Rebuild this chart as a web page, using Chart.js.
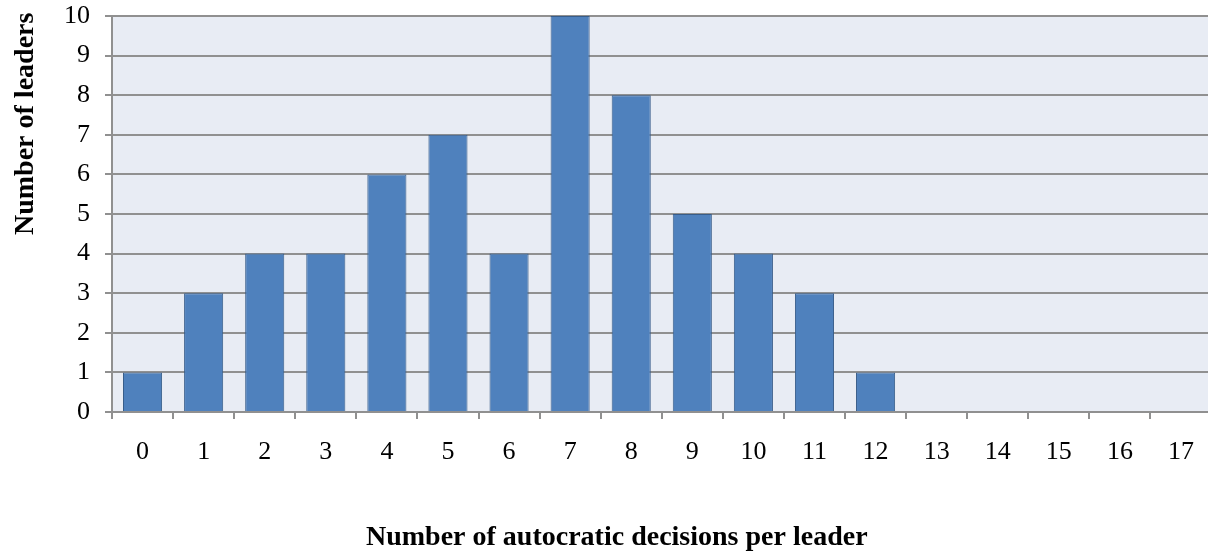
<!DOCTYPE html>
<html>
<head>
<meta charset="utf-8">
<script src="https://cdn.jsdelivr.net/npm/chart.js@4/dist/chart.umd.min.js"></script>
<style>
  html, body { margin: 0; padding: 0; background: #fff; overflow: hidden; }
  #wrap { width: 1208px; height: 552px; overflow: hidden; }
  #wrap div { width: 1212px; height: 552px; }
</style>
</head>
<body>
<div id="wrap"><div><canvas id="bars" width="1212" height="552"></canvas></div></div>
<script>
// --- data ---
const decisions = ["0", "1", "2", "3", "4", "5", "6", "7", "8", "9", "10", "11", "12", "13", "14", "15", "16", "17"];
const leaders = [1, 3, 4, 4, 6, 7, 4, 10, 8, 5, 4, 3, 1, 0, 0, 0, 0, 0];
const yTicks = [0, 1, 2, 3, 4, 5, 6, 7, 8, 9, 10];

const xTitle = "Number of autocratic decisions per leader";
const yTitle = "Number of leaders";

const serif = "'Liberation Serif', 'Times New Roman', serif";
const gridGray = "#909090";

// plot background + axis titles (titles sit off-centre in the original)
const decor = {
  id: "decor",
  beforeDraw(chart) {
    const { ctx, chartArea: a } = chart;
    ctx.save();
    ctx.fillStyle = "#E8ECF4";
    ctx.fillRect(a.left, a.top, a.right - a.left, a.bottom - a.top);
    ctx.restore();
  },
  afterDraw(chart) {
    const ctx = chart.ctx;
    ctx.save();
    ctx.fillStyle = "#000";
    ctx.font = "bold 28px " + serif;
    ctx.textBaseline = "alphabetic";
    ctx.textAlign = "left";
    ctx.fillText(xTitle, 366, 545);
    ctx.translate(33, 235);
    ctx.rotate(-Math.PI / 2);
    ctx.fillText(yTitle, 0, 0);
    ctx.restore();
  }
};

const canvas = document.getElementById("bars");
new Chart(canvas, {
  type: "bar",
  data: {
    labels: decisions,
    datasets: [{
      data: leaders,
      backgroundColor: "#4F81BD",
      borderColor: "#385D8A",
      borderWidth: 1,
      categoryPercentage: 1,
      barPercentage: 0.64
    }]
  },
  options: {
    responsive: false,
    animation: false,
    layout: { padding: 0 },
    plugins: { legend: { display: false }, tooltip: { enabled: false } },
    scales: {
      x: {
        offset: true,
        grid: { offset: true, drawOnChartArea: false, color: gridGray, lineWidth: 2, tickLength: 7 },
        border: { color: gridGray, width: 2 },
        ticks: { color: "#000", font: { family: serif, size: 26 }, padding: 18, maxRotation: 0, autoSkip: false },
        afterFit(scale) { scale.height = 140; }
      },
      y: {
        min: 0,
        max: 10,
        afterBuildTicks(scale) { scale.ticks = yTicks.map(v => ({ value: v })); },
        grid: { color: gridGray, lineWidth: 2, tickLength: 7 },
        border: { color: gridGray, width: 2 },
        ticks: { color: "#000", font: { family: serif, size: 26 }, padding: 15 },
        afterFit(scale) {
          scale.width = 112;
          scale.paddingTop = 16;
          scale.paddingBottom = 0;
        }
      }
    }
  },
  plugins: [decor]
});
</script>
</body>
</html>
